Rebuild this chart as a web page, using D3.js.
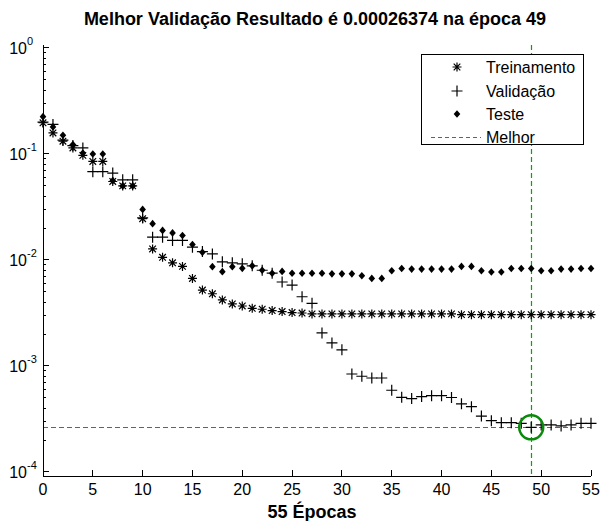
<!DOCTYPE html>
<html>
<head>
<meta charset="utf-8">
<script src="https://cdn.jsdelivr.net/npm/d3@7"></script>
<style>
  body { margin: 0; background: #fff; }
  text { font-family: "Liberation Sans", Arial, sans-serif; fill: #000; }
</style>
</head>
<body>
<div id="chart"></div>
<script>
//values, epochs 0..55
var epochs = d3.range(0, 56);

var train = [0.197, 0.158, 0.132, 0.114, 0.097, 0.085, 0.085, 0.055, 0.05, 0.05,
  0.0245, 0.0127, 0.0106, 0.0094, 0.0087, 0.0067, 0.0052, 0.0048, 0.0042, 0.00385,
  0.00368, 0.0035, 0.00343, 0.00333, 0.00326, 0.00319, 0.00316, 0.0031, 0.0031, 0.0031,
  0.0031, 0.0031, 0.0031, 0.0031, 0.0031, 0.0031, 0.0031, 0.0031, 0.0031, 0.0031,
  0.0031, 0.0031, 0.00305, 0.00305, 0.00305, 0.00305, 0.00305, 0.00305, 0.00305, 0.00305,
  0.00305, 0.00305, 0.00305, 0.00305, 0.00305, 0.00305];

var valid = [0.2, 0.19, 0.135, 0.12, 0.114, 0.068, 0.068, 0.066, 0.057, 0.057,
  0.025, 0.0164, 0.0164, 0.0153, 0.0153, 0.0132, 0.012, 0.0114, 0.0096, 0.0094,
  0.0092, 0.0088, 0.008, 0.0075, 0.0062, 0.0058, 0.0045, 0.0039, 0.00205, 0.00165,
  0.00142, 0.00084, 0.0008, 0.00077, 0.00077, 0.00059, 0.000506, 0.000492, 0.000514, 0.000525,
  0.000525, 0.000504, 0.000439, 0.000413, 0.000337, 0.000305, 0.000292, 0.000292, 0.000288, 0.00026374,
  0.000278, 0.000278, 0.000272, 0.000278, 0.000288, 0.000288];

var test = [0.225, 0.18, 0.15, 0.123, 0.102, 0.1, 0.1, 0.056, 0.05, 0.05,
  0.03, 0.022, 0.019, 0.018, 0.017, 0.014, 0.0118, 0.00865, 0.00776, 0.00865,
  0.00834, 0.0088, 0.008, 0.0075, 0.0078, 0.0075, 0.0075, 0.0075, 0.0075, 0.0074,
  0.0074, 0.0074, 0.0071, 0.0067, 0.0067, 0.0079, 0.0083, 0.0082, 0.0082, 0.0082,
  0.0082, 0.0082, 0.0087, 0.0087, 0.0079, 0.0077, 0.0077, 0.0083, 0.0083, 0.0083,
  0.0079, 0.0079, 0.0082, 0.0082, 0.0083, 0.0083];

var bestEpoch = 49;
var bestValue = 0.00026374;
var xTicks = d3.range(0, 56, 5);
var yTicks = [1e-4, 1e-3, 1e-2, 1e-1, 1e0];
var legendLabels = ["Treinamento", "Validação", "Teste", "Melhor"];

var W = 600, H = 521;
var mLeft = 43, mRight = 591, mTop = 45, mBottom = 476;

var svg = d3.select("#chart").append("svg")
  .attr("width", W)
  .attr("height", H);

var x = d3.scaleLinear().domain([0, 55]).range([mLeft, mRight]);
var y = d3.scaleLog().domain([Math.pow(10, -4.038), Math.pow(10, 0.028)]).range([mBottom, mTop]);

//title
svg.append("text")
  .attr("x", 315)
  .attr("y", 25)
  .attr("text-anchor", "middle")
  .style("font-size", "18px")
  .style("font-weight", "bold")
  .text("Melhor Validação Resultado é " + bestValue + " na época " + bestEpoch);

//best lines
var green = "#00a800";
var bx = Math.round(x(bestEpoch)) + 0.5, by = Math.round(y(bestValue)) + 0.5;
svg.append("line")
  .attr("x1", mLeft).attr("x2", mRight)
  .attr("y1", by).attr("y2", by)
  .attr("stroke", green).attr("stroke-width", 1.2).attr("stroke-dasharray", "5,3");
svg.append("line")
  .attr("x1", bx).attr("x2", bx)
  .attr("y1", mTop).attr("y2", mBottom)
  .attr("stroke", green).attr("stroke-width", 1.2).attr("stroke-dasharray", "5,3");

//markers
var plusPath = "M-5.5,0H5.5M0,-5.5V5.5";
var starPath = "M-4.5,0H4.5M0,-4.5V4.5M-3.3,-3.3L3.3,3.3M-3.3,3.3L3.3,-3.3";
var dotPath = "M0,-3.8L3.3,0L0,3.8L-3.3,0Z";

svg.selectAll(".train").data(train).enter().append("path")
  .attr("class", "train")
  .attr("transform", function(d, i) { return "translate(" + x(epochs[i]) + "," + y(d) + ")"; })
  .attr("d", starPath).attr("stroke", "#000").attr("stroke-width", 1.2).attr("fill", "none");

svg.selectAll(".valid").data(valid).enter().append("path")
  .attr("class", "valid")
  .attr("transform", function(d, i) { return "translate(" + x(epochs[i]) + "," + y(d) + ")"; })
  .attr("d", plusPath).attr("stroke", "#000").attr("stroke-width", 1.2).attr("fill", "none");

svg.selectAll(".test").data(test).enter().append("path")
  .attr("class", "test")
  .attr("transform", function(d, i) { return "translate(" + x(epochs[i]) + "," + y(d) + ")"; })
  .attr("d", dotPath).attr("fill", "#000");

//best circle
svg.append("circle")
  .attr("cx", x(bestEpoch)).attr("cy", y(bestValue))
  .attr("r", 12)
  .attr("fill", "none").attr("stroke", "#0a8a0a").attr("stroke-width", 2.5);

//axes lines
var ax = svg.append("g").attr("stroke", "#000").attr("shape-rendering", "crispEdges");
ax.append("line").attr("x1", mLeft).attr("x2", mLeft).attr("y1", mTop).attr("y2", mBottom);
ax.append("line").attr("x1", mLeft).attr("x2", mRight).attr("y1", mBottom).attr("y2", mBottom);

//x ticks (inward)
xTicks.forEach(function(t) {
  ax.append("line").attr("x1", x(t)).attr("x2", x(t)).attr("y1", mBottom).attr("y2", mBottom - 6);
  svg.append("text")
    .attr("x", x(t)).attr("y", 495)
    .attr("text-anchor", "middle")
    .style("font-size", "16px")
    .text(t);
});

//y ticks, major and minor
yTicks.forEach(function(t, k) {
  ax.append("line").attr("x1", mLeft).attr("x2", mLeft + 6).attr("y1", y(t)).attr("y2", y(t));
  svg.append("text")
    .attr("x", 27).attr("y", y(t) + 6)
    .attr("text-anchor", "end")
    .style("font-size", "16px")
    .text("10");
  svg.append("text")
    .attr("x", 27).attr("y", y(t) - 3)
    .style("font-size", "11px")
    .text(Math.round(Math.log10(t)));
  if (k < yTicks.length - 1) {
    d3.range(2, 10).forEach(function(m) {
      ax.append("line").attr("x1", mLeft).attr("x2", mLeft + 3)
        .attr("y1", y(t * m)).attr("y2", y(t * m));
    });
  }
});

//x label
svg.append("text")
  .attr("x", 312)
  .attr("y", 518)
  .attr("text-anchor", "middle")
  .style("font-size", "18px")
  .style("font-weight", "bold")
  .text("55 Épocas");

//legend
var lg = svg.append("g");
lg.append("rect")
  .attr("x", 421.5).attr("y", 54.5).attr("width", 162).attr("height", 90)
  .attr("fill", "#fff").attr("stroke", "#000");
var rowY = [67, 91, 114, 137];
lg.append("path").attr("transform", "translate(457," + rowY[0] + ")")
  .attr("d", starPath).attr("stroke", "#000").attr("stroke-width", 1.2).attr("fill", "none");
lg.append("path").attr("transform", "translate(457," + rowY[1] + ")")
  .attr("d", plusPath).attr("stroke", "#000").attr("stroke-width", 1.2).attr("fill", "none");
lg.append("path").attr("transform", "translate(457," + rowY[2] + ")")
  .attr("d", dotPath).attr("fill", "#000");
lg.append("line").attr("x1", 431).attr("x2", 481).attr("y1", rowY[3] + 0.5).attr("y2", rowY[3] + 0.5)
  .attr("stroke", green).attr("stroke-width", 1.2).attr("stroke-dasharray", "4,3");
legendLabels.forEach(function(s, i) {
  lg.append("text")
    .attr("x", 486).attr("y", rowY[i] + 5.5)
    .style("font-size", "16px")
    .text(s);
});
</script>
</body>
</html>
